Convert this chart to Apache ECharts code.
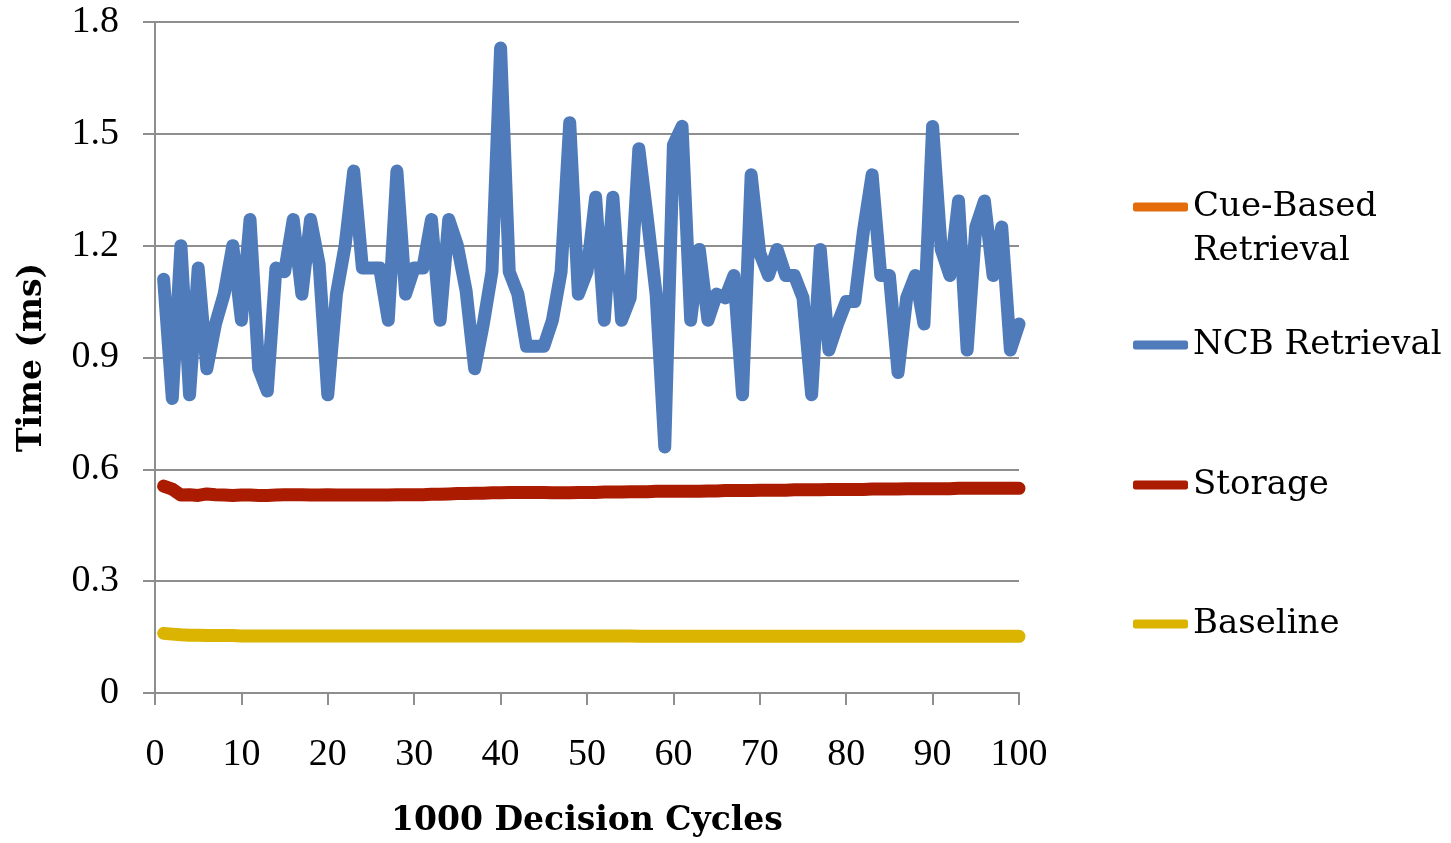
<!DOCTYPE html>
<html>
<head>
<meta charset="utf-8">
<script src="https://cdn.jsdelivr.net/npm/echarts@6/dist/echarts.min.js"></script>
<style>
html,body{margin:0;padding:0;background:#fff;}
#chart{width:1451px;height:843px;}
</style>
</head>
<body>
<div id="chart"></div>
<script>
var cycles = [];
for (var i = 1; i <= 100; i++) cycles.push(i);

var seriesNames = ['Cue-Based Retrieval', 'NCB Retrieval', 'Storage', 'Baseline'];

var cueBased = [];

var ncbRetrieval = [
  1.11, 0.79, 1.20, 0.80, 1.14, 0.87, 0.99, 1.07, 1.20, 1.00,
  1.27, 0.87, 0.81, 1.14, 1.13, 1.27, 1.07, 1.27, 1.15, 0.80,
  1.07, 1.20, 1.40, 1.14, 1.14, 1.14, 1.00, 1.40, 1.07, 1.14,
  1.14, 1.27, 1.00, 1.27, 1.20, 1.08, 0.87, 0.99, 1.13, 1.73,
  1.13, 1.07, 0.93, 0.93, 0.93, 1.00, 1.13, 1.53, 1.07, 1.13,
  1.33, 1.00, 1.33, 1.00, 1.06, 1.46, 1.27, 1.07, 0.66, 1.47,
  1.52, 1.00, 1.19, 1.00, 1.07, 1.06, 1.12, 0.80, 1.39, 1.18,
  1.12, 1.19, 1.12, 1.12, 1.06, 0.80, 1.19, 0.92, 0.99, 1.05,
  1.05, 1.24, 1.39, 1.12, 1.12, 0.86, 1.06, 1.12, 0.99, 1.52,
  1.19, 1.12, 1.32, 0.92, 1.25, 1.32, 1.12, 1.25, 0.92, 0.99
];

var storage = [
  0.555, 0.547, 0.531, 0.532, 0.530, 0.534, 0.532, 0.531, 0.530, 0.531,
  0.531, 0.530, 0.530, 0.531, 0.532, 0.532, 0.532, 0.531, 0.531, 0.532,
  0.531, 0.531, 0.531, 0.531, 0.531, 0.531, 0.531, 0.532, 0.532, 0.532,
  0.532, 0.533, 0.533, 0.534, 0.535, 0.535, 0.536, 0.536, 0.537, 0.537,
  0.538, 0.538, 0.538, 0.538, 0.538, 0.537, 0.537, 0.537, 0.538, 0.538,
  0.538, 0.539, 0.539, 0.539, 0.540, 0.540, 0.540, 0.541, 0.541, 0.541,
  0.541, 0.541, 0.541, 0.542, 0.542, 0.543, 0.543, 0.543, 0.543, 0.544,
  0.544, 0.544, 0.544, 0.545, 0.545, 0.545, 0.545, 0.546, 0.546, 0.546,
  0.546, 0.546, 0.547, 0.547, 0.547, 0.547, 0.548, 0.548, 0.548, 0.548,
  0.548, 0.548, 0.549, 0.549, 0.549, 0.549, 0.549, 0.549, 0.549, 0.549
];

var baseline = [
  0.160, 0.158, 0.156, 0.155, 0.155, 0.154, 0.154, 0.154, 0.154, 0.153,
  0.153, 0.153, 0.153, 0.153, 0.153, 0.153, 0.153, 0.153, 0.153, 0.153,
  0.153, 0.153, 0.153, 0.153, 0.153, 0.153, 0.153, 0.153, 0.153, 0.153,
  0.153, 0.153, 0.153, 0.153, 0.153, 0.153, 0.153, 0.153, 0.153, 0.153,
  0.153, 0.153, 0.153, 0.153, 0.153, 0.153, 0.153, 0.153, 0.153, 0.153,
  0.153, 0.153, 0.153, 0.153, 0.153, 0.152, 0.152, 0.152, 0.152, 0.152,
  0.152, 0.152, 0.152, 0.152, 0.152, 0.152, 0.152, 0.152, 0.152, 0.152,
  0.152, 0.152, 0.152, 0.152, 0.152, 0.152, 0.152, 0.152, 0.152, 0.152,
  0.152, 0.152, 0.152, 0.152, 0.152, 0.152, 0.152, 0.152, 0.152, 0.152,
  0.152, 0.152, 0.152, 0.152, 0.152, 0.152, 0.152, 0.152, 0.152, 0.152
];

var xTicks = [0, 10, 20, 30, 40, 50, 60, 70, 80, 90, 100];
var yTicks = ['0', '0.3', '0.6', '0.9', '1.2', '1.5', '1.8'];

var colors = ['#e46c0a', '#4f7bbb', '#ab1b00', '#dab400'];
var seriesData = [cueBased, ncbRetrieval, storage, baseline];

function pairs(arr) {
  return arr.map(function (v, i) { return [cycles[i], v]; });
}

var gridColor = '#8e8e8e';
var tickFont = 'Liberation Serif';
var legendFont = 'DejaVu Serif';
var titleFont = 'DejaVu Serif';

var legendCenters = [205, 343, 483, 622];
var legends = seriesNames.map(function (name, i) {
  var twoLine = (i === 0);
  return {
    data: [name],
    orient: 'vertical',
    left: 1128,
    top: twoLine ? legendCenters[i] - 71 + 2 : legendCenters[i] - 27 + 2,
    padding: 5,
    itemWidth: 55,
    itemHeight: 9,
    itemGap: 0,
    icon: 'roundRect',
    selectedMode: false,
    formatter: function (n) { return n === 'Cue-Based Retrieval' ? ' \nCue-Based\nRetrieval' : n; },
    textStyle: {
      fontFamily: legendFont,
      fontSize: 34,
      color: '#000',
      lineHeight: 44
    }
  };
});

var chart = echarts.init(document.getElementById('chart'), null, {renderer: 'canvas'});
chart.setOption({
  animation: false,
  backgroundColor: '#ffffff',
  color: colors,
  legend: legends,
  grid: {left: 155, top: 22, right: 432, bottom: 147, containLabel: false},
  xAxis: {
    type: 'value',
    min: 0, max: 100, interval: 10,
    name: '1000 Decision Cycles',
    nameLocation: 'middle',
    nameGap: 112,
    nameTextStyle: {fontFamily: titleFont, fontWeight: 'bold', fontSize: 33, color: '#000'},
    axisLine: {show: true, lineStyle: {color: gridColor, width: 2}},
    axisTick: {show: true, length: 12, inside: false, lineStyle: {color: gridColor, width: 2}},
    splitLine: {show: false},
    axisLabel: {
      margin: 43,
      fontFamily: tickFont, fontSize: 38, color: '#000',
      formatter: function (v) { return xTicks.indexOf(v) >= 0 ? String(v) : ''; }
    }
  },
  yAxis: {
    type: 'value',
    min: 0, max: 1.8, interval: 0.3,
    name: 'Time (ms)',
    nameLocation: 'middle',
    nameGap: 106,
    nameRotate: 90,
    nameTextStyle: {fontFamily: titleFont, fontWeight: 'bold', fontSize: 33, color: '#000'},
    axisLine: {show: true, lineStyle: {color: gridColor, width: 2}},
    axisTick: {show: true, length: 12, inside: false, lineStyle: {color: gridColor, width: 2}},
    splitLine: {show: true, lineStyle: {color: gridColor, width: 2}},
    axisLabel: {
      margin: 36,
      fontFamily: tickFont, fontSize: 38, color: '#000',
      formatter: function (v) { return yTicks[Math.round(v / 0.3)]; }
    }
  },
  series: seriesNames.map(function (name, i) {
    return {
      name: name,
      type: 'line',
      data: pairs(seriesData[i]),
      showSymbol: false,
      symbol: 'none',
      lineStyle: {color: colors[i], width: 13, cap: 'round', join: 'round'},
      itemStyle: {color: colors[i]},
      emphasis: {disabled: true}
    };
  })
});
</script>
</body>
</html>
